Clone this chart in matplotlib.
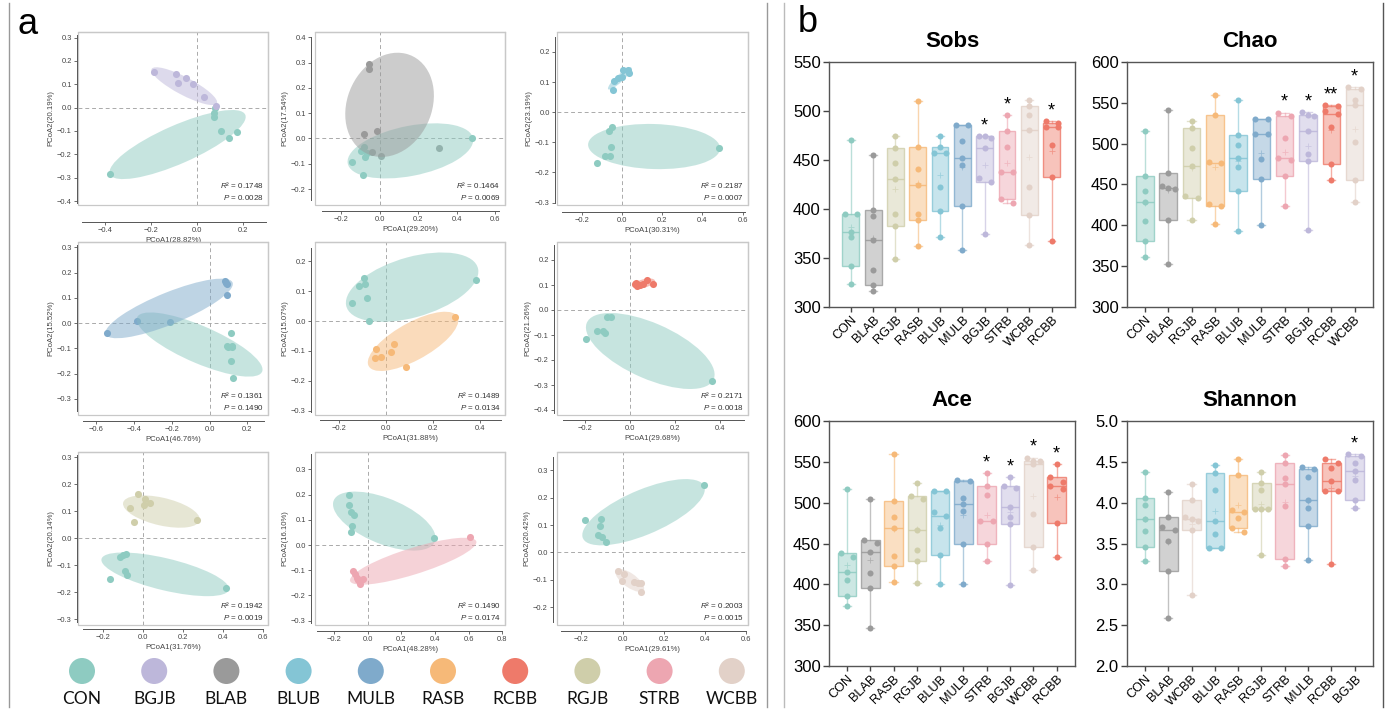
import numpy as np
import matplotlib
matplotlib.use('Agg')
import matplotlib.pyplot as plt
from matplotlib.patches import Ellipse
from matplotlib.colors import to_rgba
from matplotlib.ticker import FuncFormatter

plt.rcParams['font.family'] = ['Liberation Sans', 'DejaVu Sans']
plt.rcParams['mathtext.fontset'] = 'custom'
plt.rcParams['mathtext.rm'] = 'Liberation Sans'
plt.rcParams['mathtext.it'] = 'Liberation Sans:italic'

W, H = 1389, 710

GROUPS = ['CON', 'BGJB', 'BLAB', 'BLUB', 'MULB', 'RASB', 'RCBB', 'RGJB', 'STRB', 'WCBB']
GROUP_COLORS = ['#8ECBC1', '#BDB7DA', '#9A9A9A', '#84C5D5', '#7FAACB',
                '#F6B978', '#EE7A6A', '#CFCEAA', '#EDA6B1', '#E2D1C8']
COLOR = dict(zip(GROUPS, GROUP_COLORS))

# ---- PCoA points (CON vs each treatment) ----
P1_CON_X = [0.081, 0.077, 0.075, 0.104, 0.142, 0.175, -0.378]
P1_CON_Y = [-0.003, -0.023, -0.039, -0.100, -0.129, -0.106, -0.284]
P1_TRT_X = [-0.184, -0.091, -0.048, -0.083, -0.014, 0.032, 0.084]
P1_TRT_Y = [0.153, 0.143, 0.129, 0.106, 0.103, 0.046, 0.009]

P2_CON_X = [0.477, -0.146, -0.077, -0.087, -0.080, -0.097, -0.065]
P2_CON_Y = [0.000, -0.093, -0.073, -0.144, -0.033, -0.049, -0.058]
P2_TRT_X = [-0.054, -0.054, -0.080, -0.014, -0.040, 0.007, 0.306]
P2_TRT_Y = [0.296, 0.276, 0.016, 0.028, -0.053, -0.068, -0.036]

P3_CON_X = [-0.049, -0.068, -0.058, -0.088, -0.061, -0.125, 0.480]
P3_CON_Y = [-0.049, -0.064, -0.116, -0.147, -0.147, -0.168, -0.118]
P3_TRT_X = [-0.046, -0.042, -0.020, -0.003, 0.005, 0.031, 0.036]
P3_TRT_Y = [0.075, 0.103, 0.115, 0.118, 0.139, 0.139, 0.130]

P4_CON_X = [0.114, 0.091, 0.121, 0.114, 0.126, 0.118, 0.100]
P4_CON_Y = [-0.038, -0.091, -0.095, -0.152, -0.217, -0.090, -0.095]
P4_TRT_X = [-0.542, -0.384, -0.209, 0.084, 0.093, 0.088, 0.091]
P4_TRT_Y = [-0.041, 0.009, 0.005, 0.168, 0.156, 0.160, 0.111]

P5_CON_X = [-0.141, -0.113, -0.092, -0.086, -0.080, -0.073, 0.383]
P5_CON_Y = [0.060, 0.116, 0.144, 0.123, 0.077, 0.001, 0.136]
P5_TRT_X = [-0.043, -0.045, -0.021, 0.021, 0.035, 0.084, 0.295]
P5_TRT_Y = [-0.094, -0.125, -0.120, -0.102, -0.077, -0.153, 0.013]

P6_CON_X = [-0.197, -0.148, -0.121, -0.114, -0.104, -0.086, 0.367]
P6_CON_Y = [-0.115, -0.082, -0.082, -0.093, -0.026, -0.028, -0.285]
P6_TRT_X = [0.022, 0.033, 0.059, 0.074, 0.101, 0.044, 0.027]
P6_TRT_Y = [0.103, 0.097, 0.106, 0.119, 0.103, 0.102, 0.110]

P7_CON_X = [-0.167, -0.113, -0.083, -0.090, -0.078, -0.098, 0.415]
P7_CON_Y = [-0.153, -0.069, -0.060, -0.121, -0.138, -0.064, -0.186]
P7_TRT_X = [-0.027, 0.012, 0.037, 0.003, -0.063, -0.045, 0.270]
P7_TRT_Y = [0.163, 0.144, 0.130, 0.123, 0.112, 0.060, 0.067]

P8_CON_X = [-0.111, -0.111, -0.101, -0.083, -0.093, -0.101, 0.393]
P8_CON_Y = [0.200, 0.159, 0.133, 0.118, 0.074, 0.053, 0.028]
P8_TRT_X = [-0.087, -0.075, -0.059, -0.047, -0.028, -0.065, 0.610]
P8_TRT_Y = [-0.101, -0.114, -0.138, -0.155, -0.135, -0.130, 0.030]

P9_CON_X = [-0.181, -0.106, -0.110, -0.119, -0.100, -0.079, 0.395]
P9_CON_Y = [0.120, 0.124, 0.097, 0.064, 0.058, 0.040, 0.246]
P9_TRT_X = [-0.023, 0.008, -0.003, 0.056, 0.073, 0.089, 0.089]
P9_TRT_Y = [-0.068, -0.079, -0.105, -0.108, -0.112, -0.110, -0.144]

# ellipses: centre x, centre y, half-range x, half-range y, correlation
CON_ELL = [(-0.083, -0.158, 0.296, 0.148, 0.80),
           (0.159, -0.049, 0.326, 0.109, 0.39),
           (0.159, -0.114, 0.329, 0.075, -0.08),
           (-0.053, -0.085, 0.333, 0.127, -0.78),
           (0.112, 0.113, 0.281, 0.116, 0.45),
           (0.090, -0.164, 0.287, 0.152, -0.62),
           (0.111, -0.134, 0.319, 0.081, -0.66),
           (0.098, 0.095, 0.305, 0.117, -0.57),
           (0.102, 0.147, 0.298, 0.121, 0.69)]
TRT_ELL = [(-0.054, 0.092, 0.143, 0.081, -0.85),
           (0.051, 0.133, 0.230, 0.206, 0.18),
           (-0.012, 0.112, 0.059, 0.037, 0.90),
           (-0.214, 0.058, 0.337, 0.118, 0.82),
           (0.116, -0.068, 0.192, 0.099, 0.71),
           (0.061, 0.106, 0.050, 0.020, 0.50),
           (0.092, 0.099, 0.192, 0.060, -0.48),
           (0.270, -0.064, 0.376, 0.093, 0.81),
           (0.035, -0.102, 0.070, 0.042, -0.70)]

PCOA_TRT = ['BGJB', 'BLAB', 'BLUB', 'MULB', 'RASB', 'RCBB', 'RGJB', 'STRB', 'WCBB']
PCOA_R2 = ['0.1748', '0.1464', '0.2187', '0.1361', '0.1489', '0.2171', '0.1942', '0.1490', '0.2003']
PCOA_P = ['0.0028', '0.0069', '0.0007', '0.1490', '0.0134', '0.0018', '0.0019', '0.0174', '0.0015']
PCOA_AX1 = ['28.82', '29.20', '30.31', '46.76', '31.88', '29.68', '31.76', '48.28', '29.61']
PCOA_AX2 = ['20.19', '17.54', '23.19', '15.52', '15.07', '21.26', '20.14', '16.10', '20.42']

CON_X = [P1_CON_X, P2_CON_X, P3_CON_X, P4_CON_X, P5_CON_X, P6_CON_X, P7_CON_X, P8_CON_X, P9_CON_X]
CON_Y = [P1_CON_Y, P2_CON_Y, P3_CON_Y, P4_CON_Y, P5_CON_Y, P6_CON_Y, P7_CON_Y, P8_CON_Y, P9_CON_Y]
TRT_X = [P1_TRT_X, P2_TRT_X, P3_TRT_X, P4_TRT_X, P5_TRT_X, P6_TRT_X, P7_TRT_X, P8_TRT_X, P9_TRT_X]
TRT_Y = [P1_TRT_Y, P2_TRT_Y, P3_TRT_Y, P4_TRT_Y, P5_TRT_Y, P6_TRT_Y, P7_TRT_Y, P8_TRT_Y, P9_TRT_Y]

# ---- alpha diversity ----
SOBS_ORDER = ['CON', 'BLAB', 'RGJB', 'RASB', 'BLUB', 'MULB', 'BGJB', 'STRB', 'WCBB', 'RCBB']
SOBS = [[470, 395, 395, 377, 371, 342, 323],
        [455, 399, 393, 368, 338, 322, 316],
        [474, 462, 447, 431, 395, 383, 349],
        [510, 463, 441, 425, 395, 389, 362],
        [474, 463, 457, 457, 422, 398, 371],
        [486, 486, 469, 452, 445, 403, 358],
        [474, 474, 472, 462, 432, 428, 375],
        [496, 480, 463, 438, 438, 410, 406],
        [511, 505, 496, 481, 422, 394, 363],
        [490, 488, 484, 484, 465, 433, 367]]
SOBS_SIG = ['', '', '', '', '', '', '*', '*', '', '*']

CHAO_ORDER = ['CON', 'BLAB', 'RGJB', 'RASB', 'BLUB', 'MULB', 'STRB', 'BGJB', 'RCBB', 'WCBB']
CHAO = [[515, 461, 442, 428, 405, 381, 361],
        [541, 464, 448, 446, 444, 406, 353],
        [528, 519, 495, 473, 436, 433, 406],
        [560, 535, 477, 476, 426, 424, 402],
        [553, 510, 498, 483, 471, 442, 393],
        [530, 530, 512, 512, 481, 457, 400],
        [538, 534, 507, 482, 480, 461, 424],
        [539, 535, 534, 515, 487, 479, 394],
        [547, 546, 540, 536, 521, 475, 455],
        [569, 567, 554, 547, 502, 455, 429]]
CHAO_SIG = ['', '', '', '', '', '', '*', '*', '**', '*']

ACE_ORDER = ['CON', 'BLAB', 'RASB', 'RGJB', 'BLUB', 'MULB', 'STRB', 'BGJB', 'WCBB', 'RCBB']
ACE = [[517, 438, 433, 415, 405, 386, 373],
       [505, 454, 451, 440, 414, 395, 347],
       [559, 502, 482, 469, 435, 423, 403],
       [524, 508, 504, 466, 442, 429, 402],
       [514, 514, 489, 484, 469, 436, 401],
       [528, 526, 506, 498, 490, 449, 400],
       [536, 521, 509, 478, 477, 449, 428],
       [531, 520, 518, 495, 483, 474, 399],
       [555, 551, 551, 547, 486, 446, 418],
       [547, 531, 525, 520, 517, 475, 433]]
ACE_SIG = ['', '', '', '', '', '', '*', '*', '*', '*']

SHANNON_ORDER = ['CON', 'BLAB', 'WCBB', 'BLUB', 'RASB', 'RGJB', 'STRB', 'MULB', 'RCBB', 'BGJB']
SHANNON = [[4.37, 4.06, 3.97, 3.80, 3.65, 3.46, 3.28],
           [4.13, 3.83, 3.70, 3.66, 3.53, 3.16, 2.59],
           [4.23, 4.03, 3.83, 3.80, 3.78, 3.66, 2.87],
           [4.46, 4.36, 4.15, 3.78, 3.62, 3.45, 3.45],
           [4.54, 4.34, 3.91, 3.89, 3.81, 3.69, 3.64],
           [4.38, 4.24, 4.15, 3.92, 3.92, 3.92, 3.36],
           [4.58, 4.48, 4.30, 4.23, 3.96, 3.31, 3.22],
           [4.44, 4.41, 4.32, 4.03, 3.94, 3.71, 3.30],
           [4.53, 4.48, 4.43, 4.27, 4.14, 4.14, 3.25],
           [4.59, 4.57, 4.48, 4.39, 4.28, 4.03, 3.93]]
SHANNON_SIG = ['', '', '', '', '', '', '', '', '', '*']

# ---- layout (pixels) ----
PCOA_COLS = [(78, 268), (315, 505), (557, 748)]
PCOA_ROWS = [(32, 205), (242, 415), (452, 625)]
# xlim, ylim, xtick range, ytick range, x-axis line span, y-axis line span, x offset, y offset (px)
PCOA_LAYOUT = [
    ((-0.516, 0.310), (-0.417, 0.324), (-0.4, 0.2), (-0.4, 0.3), (-0.5, 0.3), (-0.41, 0.31), 17, 1),
    ((-0.336, 0.650), (-0.263, 0.421), (-0.2, 0.6), (-0.2, 0.4), (-0.3, 0.62), (-0.245, 0.40), 6, 4),
    ((-0.325, 0.627), (-0.308, 0.266), (-0.2, 0.6), (-0.3, 0.2), (-0.3, 0.61), (-0.30, 0.25), 7, 2),
    ((-0.696, 0.309), (-0.364, 0.321), (-0.6, 0.2), (-0.3, 0.3), (-0.67, 0.29), (-0.35, 0.31), 6, 1),
    ((-0.300, 0.506), (-0.314, 0.264), (-0.2, 0.4), (-0.3, 0.2), (-0.28, 0.49), (-0.305, 0.245), 5, 4),
    ((-0.326, 0.526), (-0.420, 0.272), (-0.2, 0.4), (-0.4, 0.2), (-0.30, 0.51), (-0.41, 0.26), 5, 3),
    ((-0.325, 0.625), (-0.322, 0.320), (-0.2, 0.6), (-0.3, 0.3), (-0.30, 0.60), (-0.31, 0.31), 4, 1),
    ((-0.314, 0.816), (-0.317, 0.369), (-0.2, 0.8), (-0.3, 0.3), (-0.30, 0.80), (-0.31, 0.36), 6, 4),
    ((-0.319, 0.610), (-0.265, 0.367), (-0.2, 0.6), (-0.2, 0.3), (-0.30, 0.60), (-0.255, 0.35), 6, 4),
]
BOX_AXES = [(829, 62, 1075, 307), (1127, 62, 1373, 307), (829, 421, 1075, 666), (1127, 421, 1373, 666)]


def add_px_axes(fig, x0, y0, x1, y1):
    return fig.add_axes([x0 / W, 1 - y1 / H, (x1 - x0) / W, (y1 - y0) / H])


def fmt1(v, pos):
    s = f'{v:.1f}'
    if s == '-0.0':
        s = '0.0'
    return s.replace('-', '\u2212')


def ellipse_patch(params, color):
    cx, cy, hx, hy, rho = params
    cov = np.array([[hx * hx, rho * hx * hy], [rho * hx * hy, hy * hy]])
    vals, vecs = np.linalg.eigh(cov)
    ang = np.degrees(np.arctan2(vecs[1, 1], vecs[0, 1]))
    return Ellipse((cx, cy), 2 * np.sqrt(vals[1]), 2 * np.sqrt(vals[0]), angle=ang,
                   facecolor=color, alpha=0.5, lw=0, zorder=3)


def pcoa_panel(fig, k):
    xlim, ylim, xtr, ytr, xb, yb, xoff, yoff = PCOA_LAYOUT[k]
    x0, x1 = PCOA_COLS[k % 3]
    y0, y1 = PCOA_ROWS[k // 3]
    ax = add_px_axes(fig, x0, y0, x1, y1)
    trt = PCOA_TRT[k]
    ax.axhline(0, color='#aaaaaa', lw=0.7, ls=(0, (4, 3)), zorder=1)
    ax.axvline(0, color='#aaaaaa', lw=0.7, ls=(0, (4, 3)), zorder=1)
    ax.scatter(CON_X[k], CON_Y[k], s=26, color=COLOR['CON'], lw=0, zorder=2)
    ax.scatter(TRT_X[k], TRT_Y[k], s=26, color=COLOR[trt], lw=0, zorder=2)
    ax.add_patch(ellipse_patch(CON_ELL[k], COLOR['CON']))
    ax.add_patch(ellipse_patch(TRT_ELL[k], COLOR[trt]))
    ax.set_xlim(*xlim)
    ax.set_ylim(*ylim)
    ax.set_xticks(np.round(np.arange(xtr[0], xtr[1] + 1e-9, 0.2), 2))
    ax.set_yticks(np.round(np.arange(ytr[0], ytr[1] + 1e-9, 0.1), 2))
    ax.xaxis.set_major_formatter(FuncFormatter(fmt1))
    ax.yaxis.set_major_formatter(FuncFormatter(fmt1))
    for side in ['top', 'right']:
        ax.spines[side].set_color('#c8c8c8')
        ax.spines[side].set_linewidth(0.9)
    ax.spines['left'].set_position(('outward', yoff * 0.72))
    ax.spines['bottom'].set_position(('outward', xoff * 0.72))
    ax.spines['left'].set_bounds(*yb)
    ax.spines['bottom'].set_bounds(*xb)
    for side in ['left', 'bottom']:
        ax.spines[side].set_color('#555555')
        ax.spines[side].set_linewidth(0.7)
    ax.add_patch(plt.Rectangle((0, 0), 1, 1, transform=ax.transAxes, fill=False,
                               ec='#c8c8c8', lw=0.9, clip_on=False, zorder=0))
    ax.tick_params(length=2.2, width=0.6, color='#555555', labelsize=5.4,
                   labelcolor='#444444', pad=1.5)
    ax.set_xlabel(f'PCoA1({PCOA_AX1[k]}%)', fontsize=5.6, color='#444444', labelpad=2)
    ax.set_ylabel(f'PCoA2({PCOA_AX2[k]}%)', fontsize=5.6, color='#444444', labelpad=2)
    ax.text(0.975, 0.115, r'$\it{R}$' + f'\u00b2 = {PCOA_R2[k]}', transform=ax.transAxes,
            ha='right', va='center', fontsize=5.8, color='#333333')
    ax.text(0.975, 0.045, r'$\it{P}$' + f' = {PCOA_P[k]}', transform=ax.transAxes,
            ha='right', va='center', fontsize=5.8, color='#333333')


def swarm_offsets(vals, thr, d=0.27):
    order = np.argsort(vals)[::-1]
    rows = []
    for idx in order:
        if rows and vals[rows[-1][0]] - vals[idx] < thr and len(rows[-1]) < 3:
            rows[-1].append(idx)
        else:
            rows.append([idx])
    off = np.zeros(len(vals))
    for r in rows:
        pos = {1: [0.0], 2: [-d, d], 3: [-d, 0.0, d]}[len(r)]
        for idx, p in zip(r, pos):
            off[idx] = p
    return off


def box_panel(fig, k, title, order, data, sig, ylim, ystep, xlim, width, fmt):
    ax = add_px_axes(fig, *BOX_AXES[k])
    span = ylim[1] - ylim[0]
    thr = 5 * span / 245
    for i, (g, vals) in enumerate(zip(order, data)):
        c = COLOR[g]
        v = np.array(vals, dtype=float)
        q1, med, q3 = np.percentile(v, [25, 50, 75], method='weibull')
        st = dict(med=med, q1=q1, q3=q3, whislo=v.min(), whishi=v.max(), mean=v.mean(), fliers=[])
        ax.bxp([st], positions=[i], widths=[width], capwidths=[0.35], patch_artist=True,
               showmeans=True, showfliers=False, manage_ticks=False,
               boxprops=dict(facecolor=to_rgba(c, 0.45), edgecolor=to_rgba(c, 0.8), lw=1),
               medianprops=dict(color=to_rgba(c, 0.85), lw=1),
               whiskerprops=dict(color=to_rgba(c, 0.6), lw=1),
               capprops=dict(color=to_rgba(c, 0.6), lw=1),
               meanprops=dict(marker='+', markeredgecolor=to_rgba(c, 0.6), markersize=4,
                              markeredgewidth=0.6))
        ax.scatter(i + swarm_offsets(v, thr), v, s=19, color=c, lw=0, zorder=5)
        if sig[i]:
            ax.text(i, v.max() + 0.042 * span, sig[i], ha='center', va='center', fontsize=13)
    ax.set_xlim(*xlim)
    ax.set_ylim(*ylim)
    ax.set_yticks(np.arange(ylim[0], ylim[1] + 1e-9, ystep))
    ax.yaxis.set_major_formatter(FuncFormatter(lambda v, p: fmt.format(v)))
    ax.set_xticks(range(len(order)))
    ax.set_xticklabels(order, rotation=45, ha='right', rotation_mode='anchor', fontsize=9.2)
    ax.tick_params(axis='y', labelsize=12, length=4, width=1, color='#444444', pad=2)
    ax.tick_params(axis='x', length=3.5, width=1, color='#444444', pad=1.5)
    for s in ax.spines.values():
        s.set_color('#555555')
        s.set_linewidth(1)
    ax.set_title(title, fontsize=16, fontweight='bold', pad=11)


def main():
    fig = plt.figure(figsize=(W / 100, H / 100), dpi=100)
    overlay = fig.add_axes([0, 0, 1, 1], zorder=-5)
    overlay.set_xlim(0, W)
    overlay.set_ylim(H, 0)
    overlay.axis('off')
    overlay.plot([9, 9], [3, 707], color='#999999', lw=1)
    overlay.plot([767, 767], [3, 707], color='#999999', lw=1)
    overlay.plot([784, 784], [3, 707], color='#bbbbbb', lw=1)
    overlay.plot([1383, 1383], [3, 707], color='#555555', lw=1)

    for k in range(9):
        pcoa_panel(fig, k)

    # legend row
    for i, g in enumerate(GROUPS):
        cx = 82 + 72.2 * i
        overlay.add_patch(Ellipse((cx, 671), 26, 26, facecolor=COLOR[g], lw=0))
        overlay.text(cx, 699, g, ha='center', va='center', fontsize=12.5,
                     family=['Lato', 'DejaVu Sans'], color='#111111')

    box_panel(fig, 0, 'Sobs', SOBS_ORDER, SOBS, SOBS_SIG, (300, 550), 50, (-0.98, 10.05), 0.75, '{:.0f}')
    box_panel(fig, 1, 'Chao', CHAO_ORDER, CHAO, CHAO_SIG, (300, 600), 50, (-0.77, 9.79), 0.75, '{:.0f}')
    box_panel(fig, 2, 'Ace', ACE_ORDER, ACE, ACE_SIG, (300, 600), 50, (-0.77, 9.79), 0.8, '{:.0f}')
    box_panel(fig, 3, 'Shannon', SHANNON_ORDER, SHANNON, SHANNON_SIG, (2.0, 5.0), 0.5, (-0.77, 9.79), 0.8, '{:.1f}')

    fig.text(28 / W, 1 - 25 / H, 'a', fontsize=26, ha='center', va='center')
    fig.text(808 / W, 1 - 22 / H, 'b', fontsize=26, ha='center', va='center')

    fig.savefig('out.png', dpi=100)


if __name__ == '__main__':
    main()
